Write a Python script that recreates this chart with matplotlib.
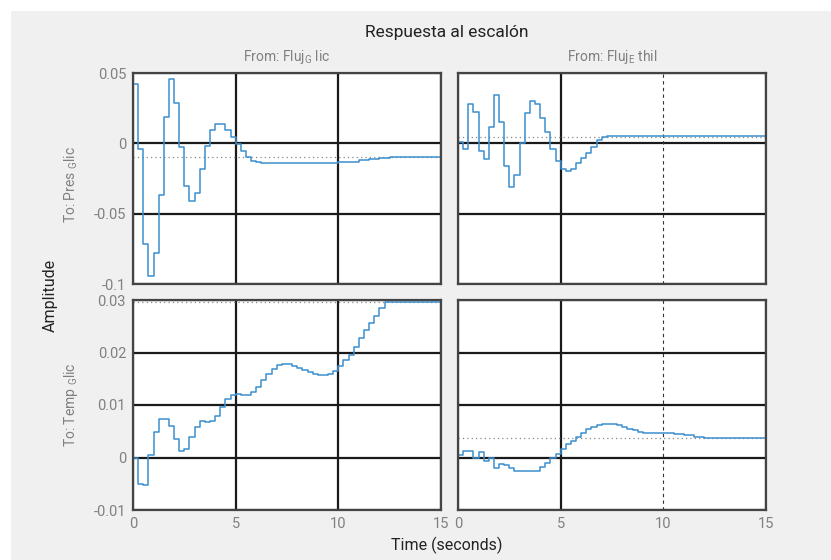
import matplotlib
matplotlib.use("Agg")
import matplotlib.pyplot as plt
from matplotlib.patches import Rectangle

plt.rcParams['font.family'] = ['Roboto', 'DejaVu Sans']
plt.rcParams['mathtext.default'] = 'regular'

# ---------------- data (sampled every 0.25 s, step changes) ----------------
t11 = [0, 0.25, 0.5, 0.75, 1.0, 1.25, 1.5, 1.75, 2.0, 2.25, 2.5, 2.75, 3.0, 3.25,
       3.5, 3.75, 4.0, 4.25, 4.5, 4.75, 5.0, 5.25, 5.5, 5.75, 6.0, 6.25, 10.0,
       10.5, 11.0, 11.5, 12.0, 12.5]
y11 = [0.042, -0.004, -0.0716, -0.094, -0.078, -0.0367, 0.0187, 0.0457, 0.0289,
       -0.0024, -0.030, -0.041, -0.035, -0.0185, -0.002, 0.0095, 0.014, 0.0135,
       0.0095, 0.0047, -0.0005, -0.0057, -0.010, -0.0124, -0.0133, -0.0138,
       -0.0135, -0.013, -0.012, -0.011, -0.0105, -0.010]
final11 = -0.010

t12 = [0, 0.25, 0.5, 0.75, 1.0, 1.25, 1.5, 1.75, 2.0, 2.25, 2.5, 2.75, 3.0, 3.25,
       3.5, 3.75, 4.0, 4.25, 4.5, 4.75, 5.0, 5.25, 5.5, 5.75, 6.0, 6.25, 6.5,
       6.75, 7.0, 7.25, 7.5, 9.0]
y12 = [0.0012, -0.0043, 0.028, 0.0223, -0.0052, -0.0114, 0.0114, 0.0344, 0.0154,
       -0.0161, -0.0313, -0.0225, 0.0005, 0.0213, 0.0299, 0.0277, 0.0178, 0.0078,
       -0.004, -0.0126, -0.0185, -0.0197, -0.0182, -0.0142, -0.0102, -0.0066,
       -0.0028, 0.0024, 0.0043, 0.0052, 0.0055, 0.005]
final12 = 0.0045

t21 = [0, 0.25, 0.5, 0.75, 1.0, 1.25, 1.5, 1.75, 2.0, 2.25, 2.5, 2.75, 3.0, 3.25,
       3.5, 3.75, 4.0, 4.25, 4.5, 4.75, 5.0, 5.25, 5.5, 5.75, 6.0, 6.25, 6.5,
       6.75, 7.0, 7.25, 7.5, 7.75, 8.0, 8.25, 8.5, 8.75, 9.0, 9.25, 9.5, 9.75,
       10.0, 10.25, 10.5, 10.75, 11.0, 11.25, 11.5, 11.75, 12.0, 12.25]
y21 = [0.0, -0.005, -0.0052, 0.0004, 0.0048, 0.0073, 0.0073, 0.006, 0.0036,
       0.0012, 0.0017, 0.004, 0.0059, 0.0069, 0.0068, 0.0069, 0.008, 0.0097,
       0.0112, 0.012, 0.0121, 0.012, 0.012, 0.0125, 0.0134, 0.0147, 0.016,
       0.0169, 0.0176, 0.0178, 0.0178, 0.0175, 0.0171, 0.0166, 0.0162, 0.0159,
       0.0157, 0.0157, 0.016, 0.0165, 0.0174, 0.0185, 0.0196, 0.0211, 0.0227,
       0.0243, 0.0257, 0.0269, 0.0284, 0.0297]
final21 = 0.0297

t22 = [0, 0.25, 0.5, 0.75, 1.0, 1.25, 1.5, 1.75, 2.0, 2.25, 2.5, 2.75, 3.0, 3.75,
       4.0, 4.25, 4.5, 4.75, 5.0, 5.25, 5.5, 5.75, 6.0, 6.25, 6.5, 6.75, 7.0,
       7.25, 7.75, 8.0, 8.25, 8.5, 8.75, 9.0, 9.5, 10.5, 11.0, 11.5, 12.0, 12.5]
y22 = [0.0004, 0.0013, 0.0013, 0.0, 0.0011, -0.0006, 0.0, -0.002, -0.0012,
       -0.0014, -0.002, -0.0025, -0.0026, -0.0025, -0.0018, -0.0011, -0.0001,
       0.0007, 0.0017, 0.0025, 0.0032, 0.004, 0.0047, 0.0054, 0.0058, 0.0061,
       0.0063, 0.0064, 0.0061, 0.0058, 0.0055, 0.0052, 0.0049, 0.0047, 0.0046,
       0.0045, 0.0043, 0.004, 0.0038, 0.0037]
final22 = 0.0037

x_ticks = [0, 5, 10, 15]
y_ticks_top = [-0.1, -0.05, 0, 0.05]
y_ticks_top_lbl = ['-0.1', '-0.05', '0', '0.05']
y_ticks_bot = [-0.01, 0, 0.01, 0.02, 0.03]
y_ticks_bot_lbl = ['-0.01', '0', '0.01', '0.02', '0.03']

title = 'Respuesta al escalón'
col_titles = [r'From: Fluj$_{G}$ lic', r'From: Fluj$_{E}$ thil']
row_titles = [r'To: Pres $_{G}$lic', r'To: Temp $_{G}$lic']

# ---------------- figure ----------------
W, H = 831, 560
fig = plt.figure(figsize=(W / 100, H / 100), dpi=100, facecolor='white')
fig.patches.append(Rectangle((11 / W, 0), 1 - 11 / W, 1 - 11 / H,
                             transform=fig.transFigure, facecolor='#f0f0f0',
                             edgecolor='none', zorder=-10))


def px_axes(x0, y0, x1, y1):
    return fig.add_axes([x0 / W, 1 - y1 / H, (x1 - x0) / W, (y1 - y0) / H])


LINE = '#3b8fd0'
GRID = '#1a1a1a'
TICKC = '#808080'

cols = [(133, 441), (458, 766)]
rows = [(73, 284), (300, 510)]
series = [[(t11, y11, final11), (t12, y12, final12)],
          [(t21, y21, final21), (t22, y22, final22)]]

for r in range(2):
    for c in range(2):
        ax = px_axes(cols[c][0], rows[r][0], cols[c][1], rows[r][1])
        ax.set_facecolor('white')
        tt, yy, fin = series[r][c]
        ts = list(tt) + [15]
        ys = list(yy) + [yy[-1]]
        ax.set_xlim(0, 15)
        if r == 0:
            ax.set_ylim(-0.1, 0.05)
            yt, ytl = y_ticks_top, y_ticks_top_lbl
        else:
            ax.set_ylim(-0.01, 0.03)
            yt, ytl = y_ticks_bot, y_ticks_bot_lbl
        # grid lines
        for yv in yt:
            ax.axhline(yv, color=GRID, lw=1.6, zorder=1)
        for xv in x_ticks:
            if c == 1 and xv == 10:
                ax.axvline(xv, color='#333333', lw=0.8, ls=(0, (3, 3)), zorder=1)
            else:
                ax.axvline(xv, color=GRID, lw=1.6, zorder=1)
        ax.plot([0, 15], [fin, fin], color='#888888', lw=0.9, ls=(0, (1, 2.5)), zorder=2)
        ax.step(ts, ys, where='post', color=LINE, lw=1.1, zorder=3)
        ax.set_xticks(x_ticks)
        ax.set_yticks(yt)
        ax.tick_params(length=0, colors=TICKC, labelsize=10.5, pad=5)
        if c == 0:
            ax.set_yticklabels(ytl)
        else:
            ax.set_yticklabels([])
        if r == 1:
            ax.set_xticklabels([str(v) for v in x_ticks])
        else:
            ax.set_xticklabels([])
        for s in ax.spines.values():
            s.set_color('#444444')
            s.set_linewidth(1.6)
            s.set_zorder(4)

# texts
fig.text(447 / W, 1 - 32 / H, title, ha='center', va='center', fontsize=12.5,
         color='#222222')
fig.text(287 / W, 1 - 57 / H, col_titles[0], ha='center', va='center',
         fontsize=10, color=TICKC)
fig.text(612 / W, 1 - 57 / H, col_titles[1], ha='center', va='center',
         fontsize=10, color=TICKC)
fig.text(71 / W, 1 - 184 / H, row_titles[0], ha='center', va='center',
         fontsize=10, color=TICKC, rotation=90)
fig.text(71 / W, 1 - 405 / H, row_titles[1], ha='center', va='center',
         fontsize=10, color=TICKC, rotation=90)
fig.text(50 / W, 1 - 295 / H, 'Amplitude', ha='center', va='center',
         fontsize=11.5, color='#222222', rotation=90)
fig.text(447 / W, 1 - 545 / H, 'Time (seconds)', ha='center', va='center',
         fontsize=11.5, color='#222222')

fig.savefig('out.png', dpi=100, facecolor=fig.get_facecolor())
